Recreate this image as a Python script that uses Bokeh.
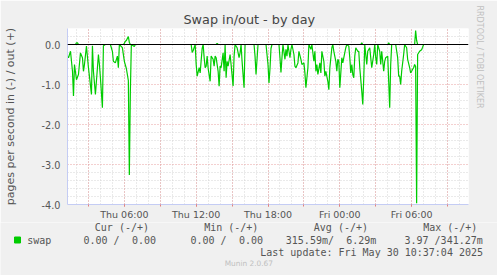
import pandas as pd
from bokeh.plotting import figure
from bokeh.layouts import column
from bokeh.models import (Range1d, FixedTicker, Grid, Span, Title,
                          DatetimeTickFormatter, PrintfTickFormatter)
from bokeh.core.properties import value
from bokeh.embed import file_html
from bokeh.resources import INLINE

# ---------------- data ----------------
TITLE = "Swap in/out - by day"
Y_LABEL = "pages per second in (-) / out (+)"
GRAPH_START = "2025-05-29 01:15"   # left edge of the graph
STEP_MIN = 5                        # minutes per sample step
N_STEPS = 402                       # width of the graph in steps
X_TICKS = ["2025-05-29 06:00", "2025-05-29 12:00", "2025-05-29 18:00",
           "2025-05-30 00:00", "2025-05-30 06:00"]
Y_TICKS = [-4.0, -3.0, -2.0, -1.0, 0.0]

# swap in (drawn negative): sample step index and value
in_step = [0, 1, 3, 5, 6, 7, 9, 11, 13, 15, 16, 17, 19, 21, 22, 24, 25, 26, 28, 30,
           31, 32, 33, 35, 36, 38, 43, 45, 46, 48, 50, 51, 52, 55, 57, 59, 60, 61, 62, 63,
           64, 67, 68, 124, 125, 126, 128, 129, 130, 132, 133, 134, 135, 136, 137, 138, 139, 140, 141, 143,
           144, 146, 147, 148, 149, 151, 152, 153, 154, 156, 157, 158, 159, 160, 161, 163, 164, 166, 167, 168,
           170, 172, 173, 174, 175, 177, 178, 187, 188, 189, 191, 199, 201, 202, 203, 204, 205, 212, 213, 214,
           215, 216, 218, 219, 220, 221, 223, 224, 225, 227, 228, 229, 231, 232, 234, 235, 237, 238, 239, 241,
           242, 244, 245, 247, 248, 249, 250, 251, 253, 254, 255, 257, 258, 259, 261, 262, 263, 265, 266, 267,
           269, 270, 271, 272, 273, 275, 276, 277, 279, 280, 282, 283, 284, 285, 286, 287, 288, 289, 291, 292,
           293, 295, 296, 297, 298, 299, 300, 301, 303, 304, 305, 307, 308, 309, 310, 311, 313, 314, 315, 317,
           318, 319, 321, 322, 323, 324, 325, 329, 331, 332, 333, 334, 335, 337, 338, 340, 341, 343, 344, 345,
           346, 347, 348, 349, 350, 351, 353, 355, 356, 357, 359]
in_val = [-0.30, -0.33, -0.17, -0.67, -1.29, -0.50, -0.88, -0.75, -0.21, -0.33, -0.67, -0.50, -0.04, -0.58, -0.79, -1.25, -0.03, -0.67, -1.25, -0.58,
          -0.25, -0.50, -0.83, -1.58, -0.03, 0.0, 0.0, -0.17, -0.42, -0.46, -0.29, -0.58, 0.0, -0.08, -0.42, -0.60, -0.75, -0.90, -3.26, -1.20,
          0.0, -0.05, 0.0, 0.0, -0.20, -0.15, 0.0, -0.50, -0.79, -0.58, -0.71, -0.40, -0.10, 0.0, -0.33, -0.58, -0.54, -0.29, -0.60, -0.92,
          -0.29, -0.37, -0.54, -0.29, -0.33, -0.67, -1.04, -0.54, -0.58, -0.21, -0.67, 0.0, -0.83, -0.42, -0.54, -0.25, -0.50, -1.04, -0.29, 0.0,
          -0.08, -0.33, -0.21, 0.0, -0.42, -1.08, 0.0, 0.0, -0.29, -0.75, 0.0, 0.0, -0.50, -0.96, -0.60, -0.10, 0.0, 0.0, -0.33, -0.70,
          -0.33, 0.0, -0.37, -0.12, -0.29, 0.0, -0.33, -0.12, 0.0, -0.25, -0.54, -0.58, -0.46, -0.17, -0.37, -0.50, -0.46, -0.71, -1.08, -0.58,
          0.0, -0.12, 0.0, -0.42, -0.17, -0.67, -0.50, -0.75, -0.46, -0.71, -0.17, -0.42, -0.79, -0.67, -0.92, -1.13, -0.58, -0.08, 0.0, -0.17,
          -0.42, -0.67, -0.37, -0.42, -1.08, -0.33, -0.46, -0.33, -0.08, 0.0, -0.04, -0.33, -0.71, -0.50, -0.75, -0.83, -0.29, -0.08, -0.17, -0.17,
          -0.58, -1.17, -1.50, -0.83, 0.0, -0.25, -0.50, -0.17, -0.08, -0.33, -0.58, -0.25, 0.0, -0.33, -0.50, 0.0, -0.17, -0.50, -0.17, -0.67,
          -0.42, -0.33, -0.29, -0.92, -1.58, -0.50, 0.0, 0.0, -0.33, -0.79, -0.79, -1.00, -0.67, -0.25, 0.0, -0.08, -0.37, -0.58, -0.71, -0.67,
          -0.62, -0.58, -0.50, -0.55, -3.97, -0.25, -0.17, -0.13, -0.07, 0.0, 0.0]

# swap out (drawn positive)
out_step = [0, 8, 9, 10, 11, 56, 57, 58, 59, 60, 61, 62, 63, 149, 150, 151, 294, 295, 296,
            321, 322, 323, 348, 349, 350, 351, 359]
out_val = [0.0, 0.0, 0.04, 0.04, 0.0, 0.0, 0.03, 0.08, 0.10, 0.15, 0.20, 0.05, 0.0, 0.0, 0.03, 0.0, 0.0, 0.04, 0.0,
           0.0, 0.04, 0.0, 0.0, 0.35, 0.10, 0.0, 0.0]

SERIES_NAME = "swap"
LEGEND_HEADERS = ["Cur (-/+)", "Min (-/+)", "Avg (-/+)", "Max (-/+)"]
LEGEND_IN = ["0.00 /", "0.00 /", "315.59m/", "3.97 /341.27m"]
LEGEND_OUT = ["0.00", "0.00", "6.29m"]
LAST_UPDATE = "Last update: Fri May 30 10:37:04 2025"
FOOTER = "Munin 2.0.67"
WATERMARK = "RRDTOOL / TOBI OETIKER"

# ---------------- helpers ----------------
t0 = pd.Timestamp(GRAPH_START)
t_end = t0 + pd.Timedelta(minutes=STEP_MIN * N_STEPS)
day0 = t0.normalize()


def ms(ts):
    return ts.value / 1e6


def step_ms(s):
    return ms(t0 + pd.Timedelta(minutes=STEP_MIN * s))


W = 497
MAIN_H = 222
FL, FR, FT, FB = 66, 468, 28, 204
Y_TOP, Y_BOT = 0.4, -4.0

GREEN = "#00CC00"
AXIS_BLUE = "#C4CCF4"
TXT = "#555555"
BG = "#F0F0F0"

p = figure(width=W, height=MAIN_H, x_axis_type="datetime", output_backend="svg",
           toolbar_location=None,
           x_range=Range1d(ms(t0), ms(t_end)), y_range=Range1d(Y_BOT, Y_TOP),
           min_border_left=FL, min_border_right=W - FR, min_border_top=FT,
           min_border_bottom=MAIN_H - FB)
p.frame_align = False
p.background_fill_color = "white"
p.border_fill_color = BG
p.outline_line_color = None
p.xgrid.visible = False
p.ygrid.visible = False

# title
p.title.text = TITLE
p.title.align = "left"
p.title.offset = 116
p.title.standoff = 3
p.title.text_font = "DejaVu Sans"
p.title.text_font_size = "12.8px"
p.title.text_font_style = "normal"
p.title.text_color = "#444444"

# watermark on the right side
p.add_layout(Title(text=WATERMARK, align="left", offset=-23, standoff=13,
                   text_font="DejaVu Sans", text_font_size="8px",
                   text_font_style="normal", text_color="#C0C0C0"), "right")

# grids
hour_ticks = [ms(day0 + pd.Timedelta(hours=h)) for h in range(2, 35)]
three_hour_ticks = [ms(day0 + pd.Timedelta(hours=h)) for h in range(3, 35, 3)]
y_minor = [round(-3.8 + 0.2 * i, 1) for i in range(22)
           if abs(round(-3.8 + 0.2 * i, 1) - round(-3.8 + 0.2 * i)) > 1e-6]
y_major = [-3.0, -2.0, -1.0]

p.add_layout(Grid(dimension=0, ticker=FixedTicker(ticks=hour_ticks),
                  grid_line_color="#D4D4D4", grid_line_dash="1 2"))
p.add_layout(Grid(dimension=1, ticker=FixedTicker(ticks=y_minor),
                  grid_line_color="#D4D4D4", grid_line_dash="1 2"))
p.add_layout(Grid(dimension=0, ticker=FixedTicker(ticks=three_hour_ticks),
                  grid_line_color="#E8A0A0", grid_line_dash="1 2"))
p.add_layout(Grid(dimension=1, ticker=FixedTicker(ticks=y_major),
                  grid_line_color="#E8A0A0", grid_line_dash="1 2"))

# axes
p.yaxis.ticker = FixedTicker(ticks=Y_TICKS)
p.yaxis.formatter = PrintfTickFormatter(format="%.1f")
p.yaxis.major_label_text_font = "DejaVu Sans"
p.yaxis.major_label_text_font_size = "9.7px"
p.yaxis.major_label_text_color = TXT
p.yaxis.axis_line_color = AXIS_BLUE
p.yaxis.major_tick_line_color = None
p.yaxis.minor_tick_line_color = None
p.yaxis.major_tick_out = 0
p.yaxis.major_tick_in = 0
p.yaxis.major_label_standoff = 7
p.yaxis.axis_label = Y_LABEL
p.yaxis.axis_label_text_font = "DejaVu Sans"
p.yaxis.axis_label_text_font_size = "11px"
p.yaxis.axis_label_text_font_style = "normal"
p.yaxis.axis_label_text_color = TXT
p.yaxis.axis_label_standoff = 22

p.xaxis.ticker = FixedTicker(ticks=[ms(pd.Timestamp(t)) for t in X_TICKS],
                             minor_ticks=three_hour_ticks)
fmt = "%a %H:%M"
p.xaxis.formatter = DatetimeTickFormatter(microseconds=fmt, milliseconds=fmt, seconds=fmt,
                                          minsec=fmt, minutes=fmt, hourmin=fmt, hours=fmt,
                                          days=fmt, months=fmt, years=fmt)
p.xaxis.major_label_text_font = "DejaVu Sans"
p.xaxis.major_label_text_font_size = "9.5px"
p.xaxis.major_label_text_color = TXT
p.xaxis.axis_line_color = AXIS_BLUE
p.xaxis.major_tick_line_color = "#E08080"
p.xaxis.minor_tick_line_color = "#E08080"
p.xaxis.major_tick_in = 0
p.xaxis.major_tick_out = 2
p.xaxis.minor_tick_in = 0
p.xaxis.minor_tick_out = 2
p.xaxis.major_label_standoff = 2

# series
p.line([step_ms(s) for s in in_step], in_val, line_color=GREEN, line_width=1.2)
p.line([step_ms(s) for s in out_step], out_val, line_color=GREEN, line_width=1.2)
p.add_layout(Span(location=0, dimension="width", line_color="black", line_width=1))

# ---------------- legend strip (pixel coordinates) ----------------
LEG_H = 275 - MAIN_H
q = figure(width=W, height=LEG_H, output_backend="svg", toolbar_location=None,
           x_range=Range1d(0, W), y_range=Range1d(275, MAIN_H),
           x_axis_location=None, y_axis_location=None,
           min_border=0, min_border_left=0, min_border_right=0,
           min_border_top=0, min_border_bottom=0)
q.frame_align = False
q.xgrid.visible = False
q.ygrid.visible = False
q.outline_line_color = None
q.background_fill_color = BG
q.border_fill_color = BG

MONO = value("DejaVu Sans Mono")
FS = value("10px")
q.text(x=[94.3, 203.7, 313.3, 422.7], y=[227.3] * 4, text=LEGEND_HEADERS,
       text_font=MONO, text_font_size=FS, text_color=TXT,
       text_align="left", text_baseline="middle")
q.scatter(x=[17], y=[239.5], marker="square", size=6, fill_color=GREEN, line_color=GREEN)
q.text(x=[26.7], y=[239.5], text=[SERIES_NAME],
       text_font=MONO, text_font_size=FS, text_color=TXT,
       text_align="left", text_baseline="middle")
q.text(x=[83, 190, 285.3, 404], y=[239.5] * 4, text=LEGEND_IN,
       text_font=MONO, text_font_size=FS, text_color=TXT,
       text_align="left", text_baseline="middle")
q.text(x=[155.5, 262.5, 375.8], y=[239.5] * 3, text=LEGEND_OUT,
       text_font=MONO, text_font_size=FS, text_color=TXT,
       text_align="right", text_baseline="middle")
q.text(x=[482.5], y=[251.7], text=[LAST_UPDATE],
       text_font=MONO, text_font_size=FS, text_color=TXT,
       text_align="right", text_baseline="middle")
q.text(x=[248.3], y=[263.3], text=[FOOTER],
       text_font=value("DejaVu Sans"), text_font_size=value("7.4px"), text_color="#C0C0C0",
       text_align="center", text_baseline="middle")

layout = column(p, q, spacing=0)
open("out.html", "w").write(file_html(layout, INLINE))
